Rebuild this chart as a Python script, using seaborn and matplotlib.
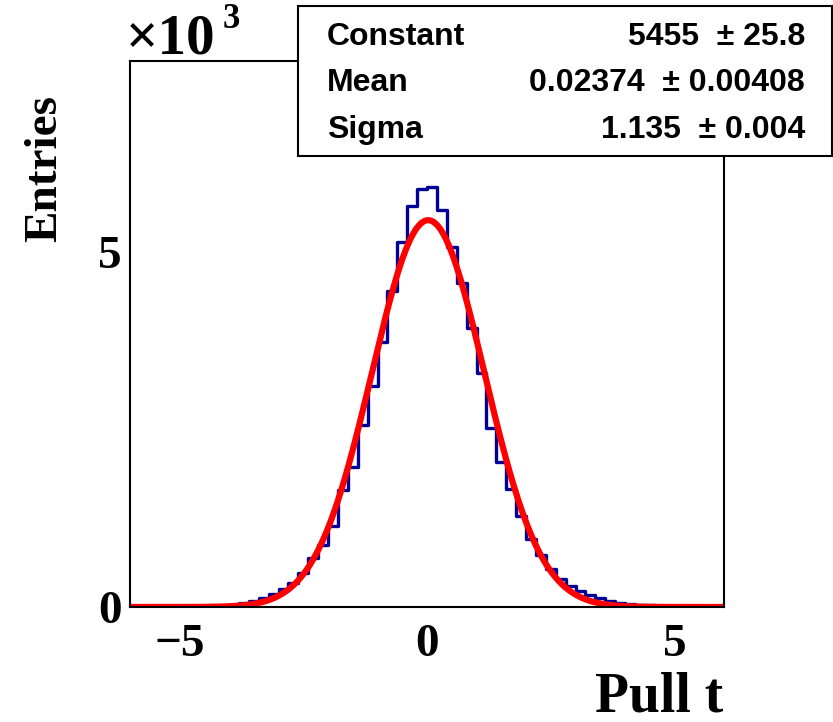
import numpy as np
import pandas as pd
import matplotlib
matplotlib.use("Agg")
import matplotlib.pyplot as plt
import seaborn as sns
from matplotlib.ticker import MultipleLocator, FixedLocator, FuncFormatter
from matplotlib.patches import Rectangle

# ---------------- data ----------------
bin_edges = [round(v, 2) for v in np.arange(-6.0, 6.0001, 0.2)]
bin_counts = [
    1, 1, 2, 2, 3, 4, 5, 7, 10, 18,
    32, 55, 85, 125, 185, 255, 340, 480, 690, 870,
    1140, 1650, 1980, 2570, 3110, 3740, 4450, 5150, 5660, 5890,
    5930, 5600, 5080, 4570, 3940, 3300, 2520, 2050, 1670, 1280,
    960, 740, 530, 400, 290, 225, 165, 120, 85, 60,
    45, 35, 25, 20, 15, 10, 8, 5, 4, 3,
]
fit_names = ["Constant", "Mean", "Sigma"]
fit_values = [5455, 0.02374, 1.135]
fit_errors = [25.8, 0.00408, 0.004]
fit_value_text = ["5455", "0.02374", "1.135"]
fit_error_text = ["25.8", "0.00408", "0.004"]
x_title = "Pull t"
y_title = "Entries"
y_major_ticks = [0, 5000]
x_major_ticks = [-5, 0, 5]

# ---------------- figure ----------------
W, H = 833, 722
sns.set_theme(style="white")
plt.rcParams["font.family"] = ["Liberation Serif", "DejaVu Serif"]
plt.rcParams["axes.unicode_minus"] = True

fig = plt.figure(figsize=(W / 100, H / 100), dpi=100)
fig.patch.set_facecolor("white")

def fx(px):
    return px / W

def fy(py):
    return 1 - py / H

ax = fig.add_axes([fx(130), fy(607), fx(724) - fx(130), fy(61) - fy(607)])
ax.set_facecolor("white")

edges = np.array(bin_edges)
centers = (edges[:-1] + edges[1:]) / 2
df = pd.DataFrame({"t": centers, "n": bin_counts})
sns.histplot(data=df, x="t", weights="n", bins=bin_edges, element="step",
             fill=False, color="#000099", linewidth=2.4, ax=ax)

C, mu, sig = fit_values
xf = np.linspace(-6, 6, 600)
fit_df = pd.DataFrame({"t": xf, "f": C * np.exp(-0.5 * ((xf - mu) / sig) ** 2)})
sns.lineplot(data=fit_df, x="t", y="f", color="#ff0000", linewidth=4.5, ax=ax)

ax.set_xlim(-6, 6)
ax.set_ylim(0, 7700)
ax.set_xlabel("")
ax.set_ylabel("")

for s in ax.spines.values():
    s.set_visible(True)
    s.set_color("black")
    s.set_linewidth(1.5)

ax.xaxis.set_major_locator(FixedLocator(x_major_ticks))
ax.xaxis.set_minor_locator(MultipleLocator(1))
ax.yaxis.set_major_locator(FixedLocator(y_major_ticks))
ax.yaxis.set_minor_locator(MultipleLocator(1000))
ax.yaxis.set_major_formatter(FuncFormatter(lambda v, p: f"{v/1000:g}"))
ax.xaxis.set_major_formatter(FuncFormatter(lambda v, p: f"{v:g}".replace("-", "\u2212")))
ax.tick_params(which="both", direction="in", top=False, right=False,
               color="black", width=1.2)
ax.tick_params(which="major", length=13)
ax.tick_params(which="minor", length=7)
ax.tick_params(axis="x", which="major", pad=12, labelsize=34)
ax.tick_params(axis="y", which="major", pad=6, labelsize=34)
for lab in ax.get_xticklabels() + ax.get_yticklabels():
    lab.set_fontweight("bold")
    lab.set_color("black")

# axis titles
fig.text(fx(723), fy(711), x_title, ha="right", va="baseline",
         fontsize=40, fontweight="bold", color="black")
fig.text(fx(45), fy(95), y_title, ha="center", va="top", rotation=90,
         fontsize=34, fontweight="bold", color="black")

# x10^3 exponent
fig.text(fx(126), fy(53), "\u00d710", ha="left", va="baseline",
         fontsize=41, fontweight="bold", color="black")
fig.text(fx(223), fy(28), "3", ha="left", va="baseline",
         fontsize=25, fontweight="bold", color="black")

# stats box
box = Rectangle((fx(298), fy(156)), fx(832) - fx(298), fy(6) - fy(156),
                transform=fig.transFigure, facecolor="white", edgecolor="black",
                linewidth=1.5, zorder=10)
fig.patches.append(box)
rows_y = [37, 83, 130]
for name, vt, et, ry in zip(fit_names, fit_value_text, fit_error_text, rows_y):
    fig.text(fx(327), fy(ry), name, ha="left", va="center", fontsize=23,
             fontweight="bold", family=["Liberation Sans", "DejaVu Sans"],
             color="black", zorder=11)
    fig.text(fx(805), fy(ry), f"{vt}  \u00b1 {et}", ha="right", va="center",
             fontsize=23, fontweight="bold",
             family=["Liberation Sans", "DejaVu Sans"], color="black", zorder=11)

fig.savefig("out.png", dpi=100)
